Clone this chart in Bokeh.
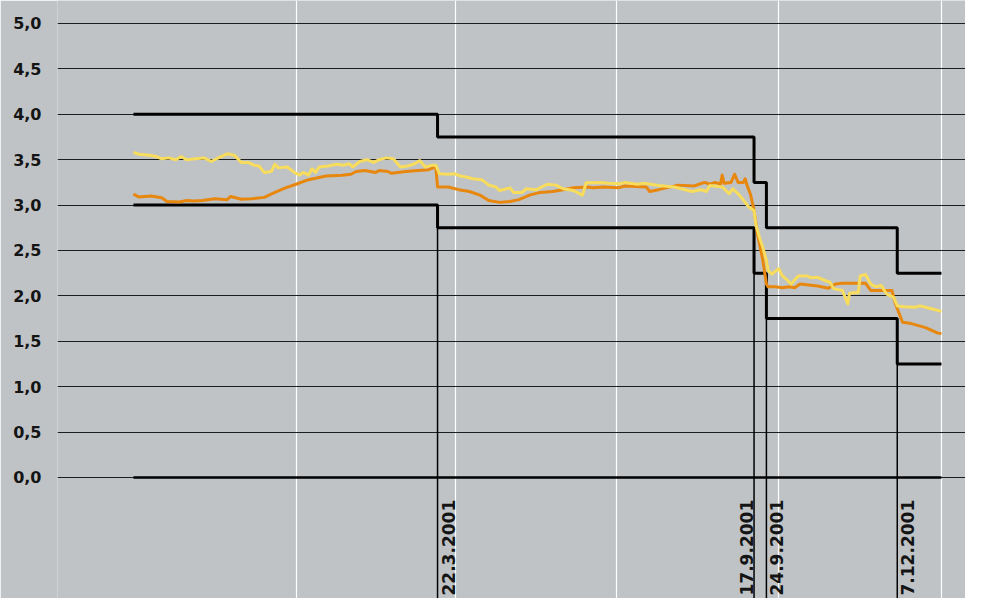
import pandas as pd
from math import pi
from bokeh.plotting import figure
from bokeh.models import Range1d, FixedTicker, CustomJSTickFormatter
from bokeh.core.properties import value
from bokeh.embed import file_html
from bokeh.resources import INLINE

# ---------------- data ----------------
# policy corridor (target range) changes
rate_dates = ["2000-10-01", "2001-03-22", "2001-09-17", "2001-09-24", "2001-12-07", "2002-01-01"]
upper_rate = [4.0, 3.75, 3.25, 2.75, 2.25]
lower_rate = [3.0, 2.75, 2.25, 1.75, 1.25]
change_labels = ["22.3.2001", "17.9.2001", "24.9.2001", "7.12.2001"]
label_side = ["right", "left", "right", "right"]

quarter_dates = ["2001-01-01", "2001-04-01", "2001-07-01", "2001-10-01", "2002-01-01"]
y_ticks = [0.0, 0.5, 1.0, 1.5, 2.0, 2.5, 3.0, 3.5, 4.0, 4.5, 5.0]

orange_dates = [
    "2000-10-01", "2000-10-04", "2000-10-11", "2000-10-17", "2000-10-20", "2000-10-27", "2000-10-31",
    "2000-11-04", "2000-11-09", "2000-11-16", "2000-11-23", "2000-11-25", "2000-12-01", "2000-12-07",
    "2000-12-14", "2000-12-20", "2000-12-26", "2001-01-01", "2001-01-08", "2001-01-18", "2001-01-27",
    "2001-02-01", "2001-02-04", "2001-02-09", "2001-02-15", "2001-02-17", "2001-02-22", "2001-02-24",
    "2001-03-04", "2001-03-11", "2001-03-17", "2001-03-21", "2001-03-22", "2001-03-28", "2001-04-03",
    "2001-04-09", "2001-04-15", "2001-04-20", "2001-04-26", "2001-05-02", "2001-05-07", "2001-05-13",
    "2001-05-19", "2001-05-26", "2001-06-01", "2001-06-07", "2001-06-15", "2001-06-18", "2001-06-24",
    "2001-07-02", "2001-07-06", "2001-07-18", "2001-07-20", "2001-07-25", "2001-08-05", "2001-08-14",
    "2001-08-20", "2001-08-23", "2001-08-26", "2001-08-29", "2001-08-30", "2001-08-31", "2001-09-04",
    "2001-09-06", "2001-09-08", "2001-09-11", "2001-09-12", "2001-09-13", "2001-09-15", "2001-09-17",
    "2001-09-19", "2001-09-22", "2001-09-24", "2001-09-25", "2001-09-29", "2001-10-03", "2001-10-07",
    "2001-10-10", "2001-10-13", "2001-10-18", "2001-10-23", "2001-10-29", "2001-11-02", "2001-11-06",
    "2001-11-19", "2001-11-22", "2001-11-28", "2001-12-04", "2001-12-06", "2001-12-10", "2001-12-14",
    "2001-12-23", "2001-12-30", "2002-01-01",
]
orange_values = [
    3.12, 3.09, 3.10, 3.08, 3.04, 3.035, 3.05,
    3.045, 3.05, 3.07, 3.06, 3.095, 3.065, 3.07,
    3.085, 3.14, 3.19, 3.23, 3.28, 3.32, 3.33,
    3.34, 3.37, 3.38, 3.36, 3.38, 3.37, 3.35,
    3.37, 3.38, 3.39, 3.42, 3.20, 3.20, 3.17,
    3.15, 3.11, 3.05, 3.03, 3.04, 3.06, 3.11,
    3.14, 3.15, 3.17, 3.19, 3.20, 3.19, 3.20,
    3.19, 3.21, 3.20, 3.15, 3.17, 3.22, 3.21,
    3.25, 3.23, 3.25, 3.23, 3.33, 3.24, 3.25,
    3.34, 3.25, 3.25, 3.29, 3.22, 3.12, 2.94,
    2.68, 2.39, 2.13, 2.10, 2.10, 2.09, 2.10,
    2.09, 2.13, 2.12, 2.11, 2.085, 2.13, 2.14,
    2.14, 2.06, 2.06, 2.06, 1.91, 1.71, 1.70,
    1.65, 1.59, 1.585,
]

yellow_dates = [
    "2000-10-01", "2000-10-04", "2000-10-10", "2000-10-14", "2000-10-17", "2000-10-21", "2000-10-25",
    "2000-10-28", "2000-10-31", "2000-11-05", "2000-11-10", "2000-11-14", "2000-11-18", "2000-11-23",
    "2000-11-27", "2000-12-01", "2000-12-05", "2000-12-08", "2000-12-11", "2000-12-14", "2000-12-18",
    "2000-12-20", "2000-12-22", "2000-12-27", "2000-12-31", "2001-01-03", "2001-01-05", "2001-01-08",
    "2001-01-10", "2001-01-12", "2001-01-14", "2001-01-19", "2001-01-24", "2001-01-28", "2001-01-31",
    "2001-02-02", "2001-02-06", "2001-02-10", "2001-02-14", "2001-02-17", "2001-02-21", "2001-02-25",
    "2001-03-01", "2001-03-05", "2001-03-09", "2001-03-12", "2001-03-15", "2001-03-19", "2001-03-21",
    "2001-03-23", "2001-03-28", "2001-04-01", "2001-04-04", "2001-04-07", "2001-04-11", "2001-04-16",
    "2001-04-20", "2001-04-24", "2001-04-26", "2001-05-02", "2001-05-04", "2001-05-09", "2001-05-11",
    "2001-05-17", "2001-05-23", "2001-05-28", "2001-06-01", "2001-06-07", "2001-06-12", "2001-06-14",
    "2001-06-22", "2001-06-27", "2001-07-03", "2001-07-06", "2001-07-13", "2001-07-17", "2001-07-25",
    "2001-08-03", "2001-08-13", "2001-08-18", "2001-08-21", "2001-08-23", "2001-08-30", "2001-09-03",
    "2001-09-05", "2001-09-09", "2001-09-12", "2001-09-14", "2001-09-17", "2001-09-18", "2001-09-20",
    "2001-09-22", "2001-09-24", "2001-09-25", "2001-09-27", "2001-10-01", "2001-10-03", "2001-10-06",
    "2001-10-08", "2001-10-12", "2001-10-17", "2001-10-19", "2001-10-23", "2001-10-27", "2001-10-30",
    "2001-11-01", "2001-11-06", "2001-11-09", "2001-11-10", "2001-11-15", "2001-11-16", "2001-11-19",
    "2001-11-22", "2001-11-25", "2001-11-28", "2001-12-01", "2001-12-05", "2001-12-07", "2001-12-11",
    "2001-12-17", "2001-12-20", "2001-12-24", "2001-12-28", "2002-01-01",
]
yellow_values = [
    3.58, 3.56, 3.55, 3.535, 3.51, 3.52, 3.50,
    3.535, 3.50, 3.51, 3.52, 3.48, 3.52, 3.565,
    3.55, 3.47, 3.47, 3.44, 3.43, 3.36, 3.37,
    3.45, 3.41, 3.42, 3.36, 3.33, 3.36, 3.33,
    3.40, 3.36, 3.42, 3.43, 3.45, 3.44, 3.455,
    3.42, 3.48, 3.50, 3.47, 3.50, 3.52, 3.51,
    3.42, 3.43, 3.455, 3.49, 3.42, 3.44, 3.44,
    3.345, 3.34, 3.345, 3.32, 3.31, 3.29, 3.28,
    3.22, 3.20, 3.16, 3.19, 3.14, 3.14, 3.18,
    3.17, 3.23, 3.22, 3.18, 3.16, 3.11, 3.245,
    3.25, 3.24, 3.235, 3.25, 3.23, 3.24, 3.215,
    3.20, 3.15, 3.17, 3.15, 3.215, 3.20, 3.125,
    3.18, 3.105, 3.03, 2.98, 2.94, 2.79, 2.65,
    2.53, 2.39, 2.28, 2.24, 2.30, 2.22, 2.17,
    2.13, 2.22, 2.22, 2.20, 2.205, 2.17, 2.15,
    2.08, 2.06, 1.91, 2.03, 2.04, 2.22, 2.235,
    2.13, 2.10, 2.115, 2.02, 1.985, 1.89, 1.88,
    1.875, 1.89, 1.87, 1.85, 1.83,
]

# ---------------- styling ----------------
BG = "#bfc3c6"
ORANGE = "#e8870e"
YELLOW = "#f8dc5c"
INK = "#141414"

t0 = pd.Timestamp("2001-01-01")
x_start = t0 - pd.Timedelta(days=134.95)
x_end = t0 + pd.Timedelta(days=378.6)
y_lo, y_hi = -1.3326, 5.2533

p = figure(width=965, height=598, x_axis_type="datetime", x_axis_location=None,
           x_range=Range1d(x_start, x_end), y_range=Range1d(y_lo, y_hi),
           output_backend="svg", toolbar_location=None,
           min_border_left=57, min_border_right=0, min_border_top=0, min_border_bottom=0,
           background_fill_color=BG, border_fill_color=BG, outline_line_color=None)

# grids
p.xgrid.ticker = FixedTicker(ticks=[pd.Timestamp(d).value / 1e6 for d in quarter_dates])
p.xgrid.grid_line_color = "white"
p.xgrid.grid_line_width = 1.2
p.yaxis.ticker = FixedTicker(ticks=y_ticks)
p.yaxis.formatter = CustomJSTickFormatter(code="return tick.toFixed(1).replace('.', ',');")
p.ygrid.grid_line_color = "#1e1e1e"
p.ygrid.grid_line_width = 1
p.yaxis.axis_line_color = None
p.yaxis.major_tick_line_color = None
p.yaxis.minor_tick_line_color = None
p.yaxis.major_tick_out = 0
p.yaxis.major_tick_in = 0
p.yaxis.major_label_standoff = 16
p.yaxis.major_label_text_font = "DejaVu Sans"
p.yaxis.major_label_text_font_style = "bold"
p.yaxis.major_label_text_font_size = "16px"
p.yaxis.major_label_text_color = INK

rd = pd.to_datetime(rate_dates)

# zero line (data span)
p.line(x=[rd[0], rd[-1]], y=[0, 0], line_color="black", line_width=2.5)

# thin vertical lines at corridor changes
chg = rd[1:5]
p.segment(x0=chg, y0=lower_rate[1:], x1=chg, y1=[y_lo] * len(chg), line_color="black", line_width=1.5)

# corridor steps
p.step(x=rd, y=upper_rate + [upper_rate[-1]], mode="after", line_color="black", line_width=3)
p.step(x=rd, y=lower_rate + [lower_rate[-1]], mode="after", line_color="black", line_width=3)

# series
p.line(x=pd.to_datetime(orange_dates), y=orange_values, line_color=ORANGE, line_width=3, line_join="round")
p.line(x=pd.to_datetime(yellow_dates), y=yellow_values, line_color=YELLOW, line_width=3, line_join="round")

# date labels
for d, lab, side in zip(chg, change_labels, label_side):
    p.text(x=[d], y=[y_lo], text=[lab], angle=pi / 2, text_align="left",
           text_baseline="top" if side == "right" else "bottom",
           x_offset=4 if side == "right" else -1, y_offset=-3,
           text_font=value("DejaVu Sans"), text_font_style="bold",
           text_font_size="17px", text_color=INK)

html = file_html(p, INLINE)
html = html.replace("<body>", '<body style="background-color:%s;">' % BG, 1)
open("out.html", "w").write(html)
